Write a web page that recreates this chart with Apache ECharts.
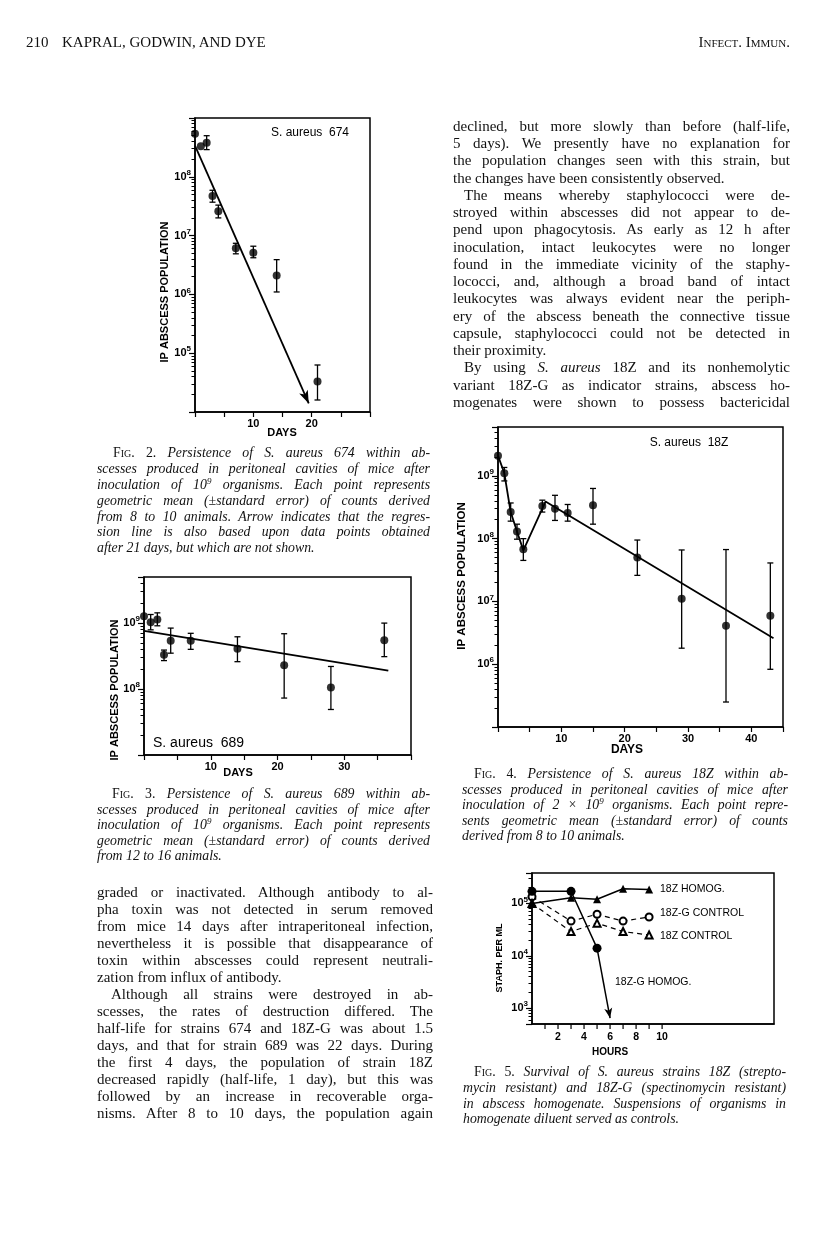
<!DOCTYPE html>
<html>
<head>
<meta charset="utf-8">
<script src="https://cdn.jsdelivr.net/npm/echarts@6/dist/echarts.min.js"></script>
<style>
  body { margin: 0; background: #fff; }
  #page { position: relative; width: 816px; height: 1243px; background: #fff; overflow: hidden; }
  #chart { position: absolute; left: 0; top: 0; width: 816px; height: 1243px; }
  .ln { position: absolute; white-space: nowrap; text-align: justify; text-align-last: justify;
        font-family: "Liberation Serif", serif; color: #111; }
  .ln.last { text-align-last: left; }
  .body { font-size: 15px; line-height: 17px; height: 17px; }
  .cap { font-size: 13.8px; line-height: 16px; height: 16px; font-style: italic; }
  .sc { font-style: normal; font-variant: small-caps; }
  sup { font-size: 9px; vertical-align: 5px; line-height: 0; }
  .head { position: absolute; font-family: "Liberation Serif", serif; font-size: 15px; color: #111; white-space: nowrap; }
</style>
</head>
<body>
<div id="page">
  <div id="chart"></div>
</div>
<script>
// ---- Fig. 2 : S. aureus 674 ----
const days674 = [0, 1, 2, 3, 4, 7, 10, 14, 21];
const mean674 = [5.4e8, 3.3e8, 3.8e8, 4.7e7, 2.6e7, 6.1e6, 5.1e6, 2.1e6, 3.3e4];
const high674 = [null, null, 5.0e8, 5.9e7, 3.3e7, 7.4e6, 6.6e6, 3.9e6, 6.3e4];
const low674  = [null, null, 2.9e8, 3.7e7, 2.0e7, 4.9e6, 4.2e6, 1.1e6, 1.6e4];
const fitDays674 = [0, 19.5];
const fitVals674 = [3.4e8, 1.4e4];

// ---- Fig. 3 : S. aureus 689 ----
const days689 = [0, 1, 2, 3, 4, 7, 14, 21, 28, 36];
const mean689 = [1.27e9, 1.03e9, 1.13e9, 3.3e8, 5.4e8, 5.4e8, 4.1e8, 2.3e8, 1.06e8, 5.5e8];
const high689 = [null, 1.35e9, 1.43e9, 3.9e8, 8.4e8, 7.0e8, 6.2e8, 6.9e8, 2.2e8, 1.0e9];
const low689  = [null, 7.9e8, 9.1e8, 2.7e8, 3.5e8, 4.0e8, 2.6e8, 7.3e7, 4.9e7, 3.1e8];
const fitDays689 = [0, 36.6];
const fitVals689 = [7.6e8, 1.9e8];

// ---- Fig. 4 : S. aureus 18Z ----
const days18Z = [0, 1, 2, 3, 4, 7, 9, 11, 15, 22, 29, 36, 43];
const mean18Z = [2.1e9, 1.1e9, 2.65e8, 1.3e8, 6.8e7, 3.3e8, 3.0e8, 2.55e8, 3.4e8, 5.0e7, 1.1e7, 4.1e6, 5.9e6];
const high18Z = [null, 1.36e9, 3.7e8, 1.7e8, 1.0e8, 4.1e8, 4.9e8, 3.5e8, 6.3e8, 9.5e7, 6.6e7, 6.7e7, 4.1e7];
const low18Z  = [null, 8.3e8, 1.9e8, 9.8e7, 4.5e7, 2.65e8, 1.95e8, 1.9e8, 1.7e8, 2.6e7, 1.8e6, 2.5e5, 8.3e5];
const fitDays18Z = [0, 1, 2, 3, 4, 7.5, 43.5];
const fitVals18Z = [2.1e9, 1.1e9, 2.65e8, 1.3e8, 6.5e7, 3.9e8, 2.6e6];

// ---- Fig. 5 : homogenate survival ----
const hours = [0, 3, 5, 7, 9];
const homog18Z = [1.0e5, 1.28e5, 1.2e5, 1.9e5, 1.85e5];
const control18ZG = [1.34e5, 4.6e4, 6.2e4, 4.6e4, 5.5e4];
const control18Z = [1.0e5, 2.9e4, 4.2e4, 2.9e4, 2.5e4];
const homog18ZGHours = [0, 3, 5];
const homog18ZG = [1.7e5, 1.7e5, 1.4e4];
const arrowHours18ZG = [5, 6];
const arrowVals18ZG = [1.4e4, 6.5e2];
const hourTicks = [1, 2, 3, 4, 5, 6, 7, 8, 9, 10];
const hourLabels = [2, 4, 6, 8, 10];

// text of the page
const headLeft = 'KAPRAL, GODWIN, AND DYE';
const headRight = 'Infect. Immun.';
const rightLines = [
  'declined, but more slowly than before (half-life,',
  '5 days). We presently have no explanation for',
  'the population changes seen with this strain, but',
  'the changes have been consistently observed.',
  'The means whereby staphylococci were de-',
  'stroyed within abscesses did not appear to de-',
  'pend upon phagocytosis. As early as 12 h after',
  'inoculation, intact leukocytes were no longer',
  'found in the immediate vicinity of the staphy-',
  'lococci, and, although a broad band of intact',
  'leukocytes was always evident near the periph-',
  'ery of the abscess beneath the connective tissue',
  'capsule, staphylococci could not be detected in',
  'their proximity.',
  'By using <i>S. aureus</i> 18Z and its nonhemolytic',
  'variant 18Z-G as indicator strains, abscess ho-',
  'mogenates were shown to possess bactericidal'
];
const leftLines = [
  'graded or inactivated. Although antibody to al-',
  'pha toxin was not detected in serum removed',
  'from mice 14 days after intraperitoneal infection,',
  'nevertheless it is possible that disappearance of',
  'toxin within abscesses could represent neutrali-',
  'zation from influx of antibody.',
  'Although all strains were destroyed in ab-',
  'scesses, the rates of destruction differed. The',
  'half-life for strains 674 and 18Z-G was about 1.5',
  'days, and that for strain 689 was 22 days. During',
  'the first 4 days, the population of strain 18Z',
  'decreased rapidly (half-life, 1 day), but this was',
  'followed by an increase in recoverable orga-',
  'nisms. After 8 to 10 days, the population again'
];
const cap2 = [
  '<span class="sc">Fig. 2.</span> Persistence of S. aureus 674 within ab-',
  'scesses produced in peritoneal cavities of mice after',
  'inoculation of 10<sup>9</sup> organisms. Each point represents',
  'geometric mean (±standard error) of counts derived',
  'from 8 to 10 animals. Arrow indicates that the regres-',
  'sion line is also based upon data points obtained',
  'after 21 days, but which are not shown.'
];
const cap3 = [
  '<span class="sc">Fig. 3.</span> Persistence of S. aureus 689 within ab-',
  'scesses produced in peritoneal cavities of mice after',
  'inoculation of 10<sup>9</sup> organisms. Each point represents',
  'geometric mean (±standard error) of counts derived',
  'from 12 to 16 animals.'
];
const cap4 = [
  '<span class="sc">Fig. 4.</span> Persistence of S. aureus 18Z within ab-',
  'scesses produced in peritoneal cavities of mice after',
  'inoculation of 2 × 10<sup>9</sup> organisms. Each point repre-',
  'sents geometric mean (±standard error) of counts',
  'derived from 8 to 10 animals.'
];
const cap5 = [
  '<span class="sc">Fig. 5.</span> Survival of S. aureus strains 18Z (strepto-',
  'mycin resistant) and 18Z-G (spectinomycin resistant)',
  'in abscess homogenate. Suspensions of organisms in',
  'homogenate diluent served as controls.'
];

// ---------- text blocks ----------
const page = document.getElementById('page');
function addLines(lines, cls, x0, x1, y0, pitch, lh, indentRows, lastRows, indent) {
  lines.forEach(function (t, i) {
    const d = document.createElement('div');
    const ind = indentRows.indexOf(i) >= 0 ? indent : 0;
    d.className = 'ln ' + cls + (lastRows.indexOf(i) >= 0 ? ' last' : '');
    d.style.left = (x0 + ind) + 'px';
    d.style.width = (x1 - x0 - ind) + 'px';
    d.style.top = (y0 + i * pitch - lh / 2 - 1) + 'px';
    d.innerHTML = t;
    page.appendChild(d);
  });
}
addLines(rightLines, 'body', 453, 790, 127.3, 17.25, 17, [4, 14], [3, 13], 11);
addLines(leftLines, 'body', 97, 433, 893.3, 17.0, 17, [6], [5], 14);
addLines(cap2, 'cap', 97, 430, 454.3, 15.8, 16, [0], [6], 16);
addLines(cap3, 'cap', 97, 430, 795, 15.6, 16, [0], [4], 15);
addLines(cap4, 'cap', 462, 788, 775, 15.6, 16, [0], [4], 12);
addLines(cap5, 'cap', 463, 786, 1073.3, 15.6, 16, [0], [3], 11);

function addHead(html, x, y, right) {
  const d = document.createElement('div');
  d.className = 'head';
  d.style.top = (y - 9) + 'px';
  if (right) { d.style.right = (816 - x) + 'px'; } else { d.style.left = x + 'px'; }
  d.innerHTML = html;
  page.appendChild(d);
}
addHead('210', 26, 43);
addHead(headLeft, 62, 43);
addHead('<span style="font-variant:small-caps">' + headRight + '</span>', 790, 43, true);

// ---------- chart ----------
function zip(xs, ys) { return xs.map(function (x, i) { return [x, ys[i]]; }); }
function bars(xs, lo, hi) {
  const out = [];
  xs.forEach(function (x, i) { if (hi[i] != null) out.push([x, lo[i], hi[i]]); });
  return out;
}
function errRender(params, api) {
  const x = api.value(0);
  const p1 = api.coord([x, api.value(2)]);
  const p2 = api.coord([x, api.value(1)]);
  const w = 3;
  const st = { stroke: '#000', lineWidth: 1.3 };
  return { type: 'group', children: [
    { type: 'line', shape: { x1: p1[0], y1: p1[1], x2: p2[0], y2: p2[1] }, style: st },
    { type: 'line', shape: { x1: p1[0] - w, y1: p1[1], x2: p1[0] + w, y2: p1[1] }, style: st },
    { type: 'line', shape: { x1: p2[0] - w, y1: p2[1], x2: p2[0] + w, y2: p2[1] }, style: st }
  ]};
}
function hourTickRender(params, api) {
  const p = api.coord([api.value(0), 5e2]);
  return { type: 'line', shape: { x1: p[0], y1: p[1], x2: p[0], y2: p[1] + 5 },
           style: { stroke: '#000', lineWidth: 1.2 } };
}

const SANS = '"Liberation Sans", Arial, sans-serif';
const supRich = {
  b: { fontSize: 11, fontWeight: 'bold', fontFamily: SANS, color: '#000', lineHeight: 16 },
  s: { fontSize: 8, fontWeight: 'bold', fontFamily: SANS, color: '#000', verticalAlign: 'top', lineHeight: 9 }
};
function powLabel(show) {
  return function (v) {
    const l = Math.log10(v);
    const e = Math.round(l);
    if (Math.abs(l - e) > 1e-6) return '';
    return show.indexOf(e) >= 0 ? '{b|10}{s|' + e + '}' : '';
  };
}
function logAxis(grid, min, max, show) {
  return {
    gridIndex: grid, type: 'log', logBase: 10, min: min, max: max,
    axisLine: { show: true, lineStyle: { color: '#000', width: 1.5 } },
    axisTick: { show: true, length: 6, lineStyle: { color: '#000', width: 1.2 } },
    minorTick: { show: true, splitNumber: 9, length: 3.5, lineStyle: { color: '#000', width: 1 } },
    splitLine: { show: false }, minorSplitLine: { show: false },
    axisLabel: { margin: 4, formatter: powLabel(show), rich: supRich, showMinLabel: false, showMaxLabel: false }
  };
}
function dayAxis(grid, max, labels, tick) {
  return {
    gridIndex: grid, type: 'value', min: 0, max: max, interval: 5,
    axisLine: { show: true, lineStyle: { color: '#000', width: 1.5 } },
    axisTick: { show: tick !== false, length: 5, lineStyle: { color: '#000', width: 1.2 } },
    splitLine: { show: false },
    axisLabel: {
      margin: 6, color: '#000', fontFamily: SANS, fontWeight: 'bold', fontSize: 11,
      formatter: function (v) { return labels.indexOf(v) >= 0 ? String(v) : ''; }
    }
  };
}
const dot = { color: '#000' };
const fitLine = { color: '#000', width: 1.8 };
const openMark = { color: '#000', borderColor: '#000', borderWidth: 1.2 };

function scatter(xi, data, size) {
  return { type: 'scatter', xAxisIndex: xi, yAxisIndex: xi, data: data, symbol: 'circle',
           symbolSize: size || 8, itemStyle: dot, silent: true, z: 5 };
}
function errSeries(xi, data) {
  return { type: 'custom', xAxisIndex: xi, yAxisIndex: xi, data: data, renderItem: errRender,
           encode: { x: 0, y: [1, 2] }, silent: true, z: 4 };
}
function gtext(text, x, y, font, opts) {
  opts = opts || {};
  return {
    type: 'text', x: x, y: y, rotation: opts.rot || 0, z: 10,
    style: { text: text, font: font, fill: '#000',
             textAlign: opts.align || 'center', textVerticalAlign: 'middle',
             align: opts.align || 'center', verticalAlign: 'middle' }
  };
}

const option = {
  animation: false,
  grid: [
    { left: 195, top: 118, width: 175, height: 294, show: true, borderColor: '#000', borderWidth: 1.5 },
    { left: 144, top: 577, width: 267, height: 178, show: true, borderColor: '#000', borderWidth: 1.5 },
    { left: 498, top: 427, width: 285, height: 300, show: true, borderColor: '#000', borderWidth: 1.5 },
    { left: 532, top: 873, width: 242, height: 151, show: true, borderColor: '#000', borderWidth: 1.5 }
  ],
  xAxis: [
    dayAxis(0, 30, [10, 20]),
    dayAxis(1, 40, [10, 20, 30]),
    dayAxis(2, 45, [10, 20, 30, 40]),
    {
      gridIndex: 3, type: 'value', min: 0, max: 18.6, interval: 2,
      axisLine: { show: true, lineStyle: { color: '#000', width: 1.5 } },
      axisTick: { show: false }, splitLine: { show: false },
      axisLabel: {
        margin: 8, color: '#000', fontFamily: SANS, fontWeight: 'bold', fontSize: 10.5,
        formatter: function (v) { return hourLabels.indexOf(v) >= 0 ? String(v) : ''; }
      }
    }
  ],
  yAxis: [
    logAxis(0, 1e4, 1e9, [5, 6, 7, 8]),
    logAxis(1, 1e7, 5e9, [8, 9]),
    logAxis(2, 1e5, 6e9, [6, 7, 8, 9]),
    logAxis(3, 5e2, 3.8e5, [3, 4, 5])
  ],
  series: [
    // Fig. 2
    errSeries(0, bars(days674, low674, high674)),
    Object.assign(scatter(0, zip(days674, mean674)), {
      markLine: {
        silent: true, symbol: ['none', 'arrow'], symbolSize: [7, 13],
        lineStyle: { color: '#000', width: 1.8, type: 'solid' }, label: { show: false },
        data: [[{ coord: [fitDays674[0], fitVals674[0]] }, { coord: [fitDays674[1], fitVals674[1]] }]]
      }
    }),
    // Fig. 3
    errSeries(1, bars(days689, low689, high689)),
    scatter(1, zip(days689, mean689)),
    { type: 'line', xAxisIndex: 1, yAxisIndex: 1, data: zip(fitDays689, fitVals689), showSymbol: false,
      lineStyle: fitLine, silent: true },
    // Fig. 4
    errSeries(2, bars(days18Z, low18Z, high18Z)),
    scatter(2, zip(days18Z, mean18Z)),
    { type: 'line', xAxisIndex: 2, yAxisIndex: 2, data: zip(fitDays18Z, fitVals18Z), showSymbol: false,
      lineStyle: fitLine, silent: true },
    // Fig. 5
    { type: 'line', xAxisIndex: 3, yAxisIndex: 3, data: zip(hours, control18ZG), symbol: 'emptyCircle',
      symbolSize: 7, itemStyle: openMark, showAllSymbol: true,
      lineStyle: { color: '#000', width: 1.2, type: [5, 4] }, silent: true, z: 3 },
    { type: 'line', xAxisIndex: 3, yAxisIndex: 3, data: zip(hours, control18Z), symbol: 'emptyTriangle',
      symbolSize: 7, itemStyle: openMark, showAllSymbol: true,
      lineStyle: { color: '#000', width: 1.2, type: [5, 4] }, silent: true, z: 3 },
    { type: 'line', xAxisIndex: 3, yAxisIndex: 3, data: zip(hours, homog18Z), symbol: 'triangle',
      symbolSize: 8, itemStyle: dot, lineStyle: { color: '#000', width: 1.5 }, silent: true, z: 4 },
    { type: 'line', xAxisIndex: 3, yAxisIndex: 3, data: zip(homog18ZGHours, homog18ZG), symbol: 'circle',
      symbolSize: 9, itemStyle: dot, lineStyle: { color: '#000', width: 1.5 }, silent: true, z: 6,
      markLine: {
        silent: true, symbol: ['none', 'arrow'], symbolSize: [6, 10],
        lineStyle: { color: '#000', width: 1.5, type: 'solid' }, label: { show: false },
        data: [[{ coord: [arrowHours18ZG[0], arrowVals18ZG[0]] }, { coord: [arrowHours18ZG[1], arrowVals18ZG[1]] }]]
      } },
    { type: 'custom', xAxisIndex: 3, yAxisIndex: 3, data: hourTicks.map(function (h) { return [h]; }),
      renderItem: hourTickRender, silent: true, clip: false }
  ],
  graphic: [
    gtext('IP ABSCESS POPULATION', 165, 292, 'bold 11px ' + SANS, { rot: Math.PI / 2 }),
    gtext('IP ABSCESS POPULATION', 115, 690, 'bold 11px ' + SANS, { rot: Math.PI / 2 }),
    gtext('IP ABSCESS POPULATION', 462, 576, 'bold 11.5px ' + SANS, { rot: Math.PI / 2 }),
    gtext('STAPH. PER ML', 500, 958, 'bold 9px ' + SANS, { rot: Math.PI / 2 }),
    gtext('DAYS', 282, 433, 'bold 11px ' + SANS),
    gtext('DAYS', 238, 773, 'bold 11px ' + SANS),
    gtext('DAYS', 627, 750, 'bold 12px ' + SANS),
    gtext('HOURS', 610, 1052, 'bold 10px ' + SANS),
    gtext('S. aureus  674', 310, 133, '12px ' + SANS),
    gtext('S. aureus  689', 153, 743, '14px ' + SANS, { align: 'left' }),
    gtext('S. aureus  18Z', 689, 443, '12px ' + SANS),
    gtext('18Z HOMOG.', 660, 889, '10.5px ' + SANS, { align: 'left' }),
    gtext('18Z-G CONTROL', 660, 913, '10.5px ' + SANS, { align: 'left' }),
    gtext('18Z CONTROL', 660, 936, '10.5px ' + SANS, { align: 'left' }),
    gtext('18Z-G HOMOG.', 615, 982, '10.5px ' + SANS, { align: 'left' })
  ]
};

const myChart = echarts.init(document.getElementById('chart'));
myChart.setOption(option);
</script>
</body>
</html>
